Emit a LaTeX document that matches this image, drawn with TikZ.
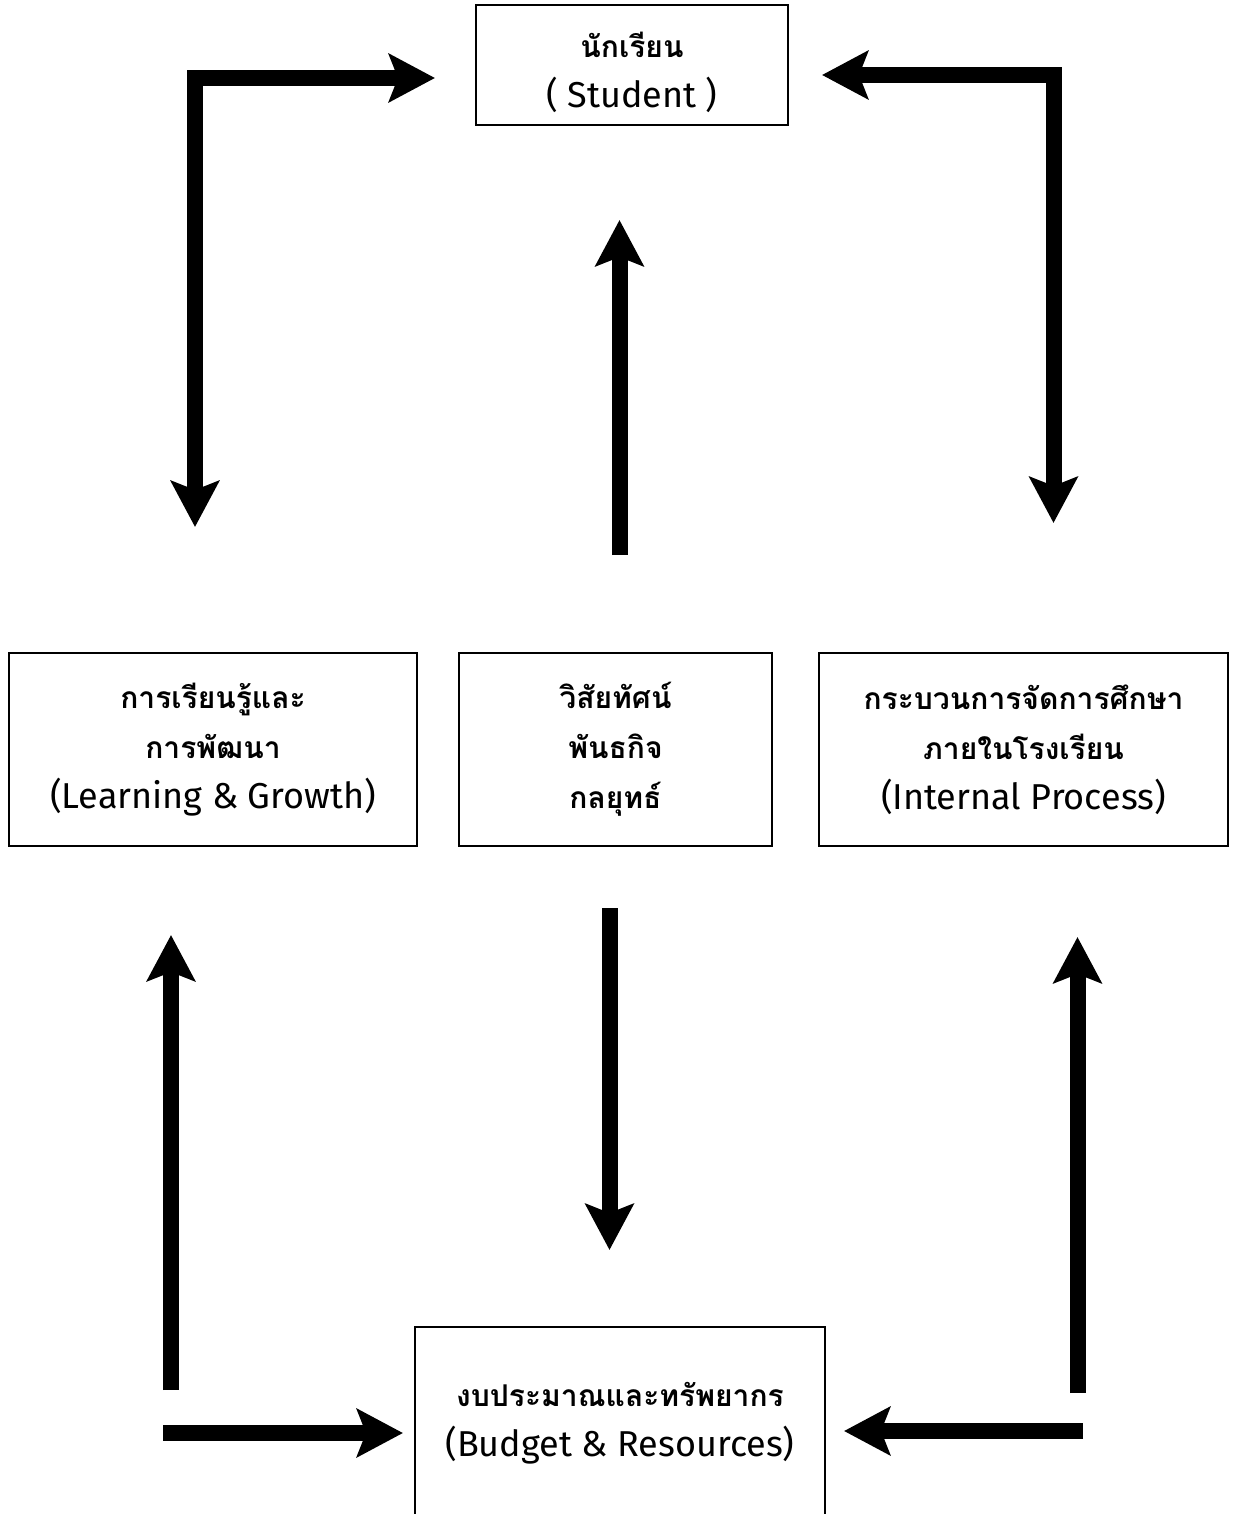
\documentclass[tikz,border=0pt]{standalone}
\usepackage{fontspec}
\newfontfamily\thaifont[Script=Thai]{Loma}
\newfontfamily\engfont{Fira Sans}
\usetikzlibrary{arrows.meta}
\tikzset{
    >={Stealth[length=23pt, width=24pt, inset=4.5pt]},
    box/.style={draw, line width=0.75pt, align=center, inner sep=0pt,
        font=\fontsize{15}{25}\selectfont\thaifont\bfseries}, % กรอบข้อความ
    big arrow/.style={line width=8pt, line join=miter, ->} % ลูกศรหนา
}
\newcommand{\eng}[1]{{\fontsize{18}{25}\selectfont\engfont\mdseries #1}}

\begin{document}
\begin{tikzpicture}[x=0.5pt, y=-0.5pt]
    \useasboundingbox (0,0) rectangle (1236,1514);
    \clip (0,0) rectangle (1236,1514);

    % กรอบ
    \node[box, minimum width=156pt, minimum height=60pt, text height=45pt] (student) at (632,65)
        {นักเรียน\\ \eng{( Student )}};
    \node[box, minimum width=204pt, minimum height=96.5pt] (learn) at (213,749.5)
        {การเรียนรู้และ\\ การพัฒนา\\ \eng{(Learning \& Growth)}};
    \node[box, minimum width=156.5pt, minimum height=96.5pt] (vision) at (615.5,749.5)
        {วิสัยทัศน์\\ พันธกิจ\\ กลยุทธ์};
    \node[box, minimum width=204.5pt, minimum height=96.5pt] (process) at (1023.5,749.5)
        {กระบวนการจัดการศึกษา\\ ภายในโรงเรียน\\ \eng{(Internal Process)}};
    \node[box, minimum width=205pt, minimum height=96pt] (budget) at (620,1423)
        {งบประมาณและทรัพยากร\\ \eng{(Budget \& Resources)}};

    % ปลายลูกศร
    \coordinate (tlA) at (195,527);   \coordinate (tlB) at (435,78);
    \coordinate (trA) at (822,75);    \coordinate (trB) at (1053.5,523);
    \coordinate (upA) at (619.5,555); \coordinate (upB) at (619.5,220);
    \coordinate (dnA) at (609.5,908); \coordinate (dnB) at (609.5,1250);
    \coordinate (blA) at (171,1390);  \coordinate (blB) at (171,935);
    \coordinate (bhA) at (163,1433);  \coordinate (bhB) at (403,1433);
    \coordinate (brA) at (1077.5,1393); \coordinate (brB) at (1077.5,937);
    \coordinate (rhA) at (1083,1431); \coordinate (rhB) at (844,1431);

    \draw[big arrow, <->] (tlA) |- (tlB);
    \draw[big arrow, <->] (trA) -| (trB);
    \draw[big arrow] (upA) -- (upB);
    \draw[big arrow] (dnA) -- (dnB);
    \draw[big arrow] (blA) -- (blB);
    \draw[big arrow] (bhA) -- (bhB);
    \draw[big arrow] (brA) -- (brB);
    \draw[big arrow] (rhA) -- (rhB);
\end{tikzpicture}
\end{document}
